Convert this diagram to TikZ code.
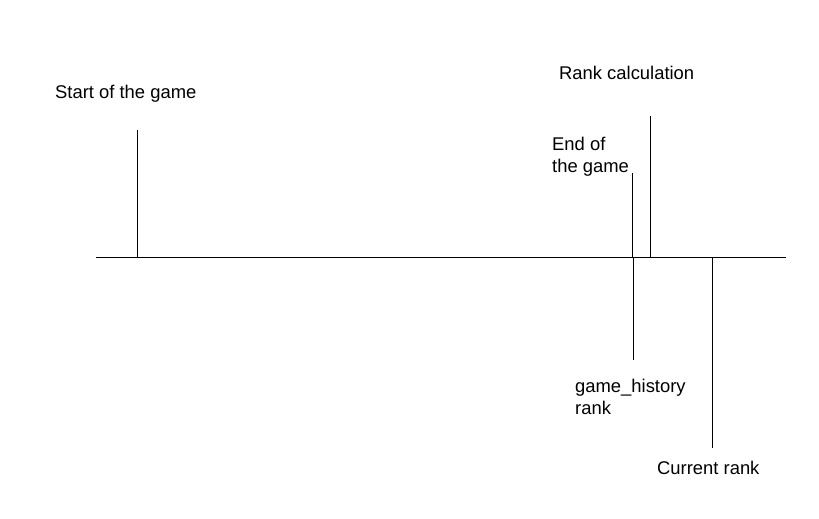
\documentclass[tikz,border=0pt]{standalone}
\usepackage{fontspec}
\setmainfont{Liberation Sans}
\begin{document}
\begin{tikzpicture}[x=1pt,y=-1pt,
  tick/.style={line width=1pt, line cap=butt},
  lbl/.style={inner sep=0pt, anchor=base west, font=\fontsize{18.4}{21.7}\selectfont, align=left}]
\useasboundingbox (0,0) rectangle (819,519);
\coordinate (L) at (96,257);
\coordinate (R) at (786,257);
\draw[tick] (L) -- (R);
% start
\coordinate (s1) at (137,130);
\coordinate (s0) at (137,257);
\draw[tick] (s1) -- (s0);
\node[lbl] (start) at (55,99) {Start of the game};
% end of game
\coordinate (e1) at (632,173);
\coordinate (e0) at (632,257);
\draw[tick] (e1) -- (e0);
\node[lbl] (end) at (552,172) {End of\\the game};
% rank calc
\coordinate (r1) at (650,116);
\coordinate (r0) at (650,257);
\draw[tick] (r1) -- (r0);
\node[lbl] (calc) at (559,80) {Rank calculation};
% game_history rank
\coordinate (g0) at (633.5,257);
\coordinate (g1) at (633.5,360);
\draw[tick] (g0) -- (g1);
\node[lbl] (hist) at (575,414) {game\_history\\rank};
% current rank
\coordinate (c0) at (712,257);
\coordinate (c1) at (712,448);
\draw[tick] (c0) -- (c1);
\node[lbl] (cur) at (657,474) {Current rank};
\end{tikzpicture}
\end{document}
